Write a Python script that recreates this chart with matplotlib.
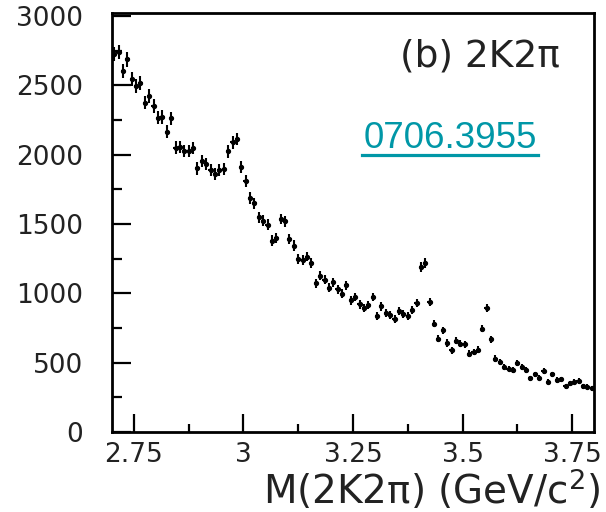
import numpy as np
import matplotlib
matplotlib.use("Agg")
import matplotlib.pyplot as plt
from matplotlib.lines import Line2D
from matplotlib.ticker import MultipleLocator

plt.rcParams['mathtext.fontset'] = 'dejavusans'

# bin edges 2.70 - 3.80 GeV, 10 MeV bins
edges_lo = 2.70
bin_w = 0.01
counts = [2727, 2740, 2604, 2688, 2544, 2496, 2520, 2376, 2424, 2352,
          2268, 2273, 2165, 2264, 2052, 2057, 2029, 2029, 2048, 1901,
          1957, 1933, 1890, 1861, 1890, 1897, 2024, 2089, 2113, 1909,
          1808, 1688, 1650, 1549, 1525, 1496, 1381, 1401, 1537, 1520,
          1393, 1345, 1250, 1242, 1266, 1218, 1074, 1129, 1098, 1041,
          1081, 1029, 998, 1057, 949, 973, 921, 897, 914, 973,
          835, 906, 858, 842, 815, 873, 849, 835, 878, 930,
          1189, 1218, 937, 782, 674, 734, 642, 590, 657, 638,
          633, 566, 578, 595, 746, 894, 669, 530, 506, 470,
          458, 446, 499, 470, 446, 386, 415, 393, 441, 362,
          415, 374, 379, 331, 350, 362, 369, 331, 326, 314]
x_ticks = [2.75, 3.0, 3.25, 3.5, 3.75]
x_tick_labels = ["2.75", "3", "3.25", "3.5", "3.75"]
y_ticks = [0, 500, 1000, 1500, 2000, 2500, 3000]

counts = np.array(counts, dtype=float)
mass = edges_lo + bin_w * (np.arange(len(counts)) + 0.5)
err = np.sqrt(counts)  # poisson errors

fig = plt.figure(figsize=(6.06, 5.12), dpi=100)
ax = fig.add_axes([112 / 606, 80 / 512, 482 / 606, 419.3 / 512])

ax.errorbar(mass, counts, xerr=bin_w / 2, yerr=err, fmt='o', ms=2.8,
            color='black', ecolor='black', elinewidth=1.5, capsize=0)

ax.set_xlim(2.70, 3.80)
ax.set_ylim(0, 3025)
ax.set_xticks(x_ticks)
ax.set_xticklabels(x_tick_labels)
ax.set_yticks(y_ticks)
ax.xaxis.set_minor_locator(MultipleLocator(0.125))
ax.yaxis.set_minor_locator(MultipleLocator(250))

ax.tick_params(which='both', direction='in', width=1.6, colors='black',
               labelcolor='#222222', top=False, right=False)
ax.tick_params(axis='x', which='major', length=13, pad=7, labelsize=19)
ax.tick_params(axis='x', which='minor', length=6)
ax.tick_params(axis='y', which='major', length=14, pad=21, labelsize=19)
ax.tick_params(axis='y', which='minor', length=7)
for s in ax.spines.values():
    s.set_linewidth(2.0)

# axis label sits right-aligned below the frame
fig.text(600 / 606, 1 - 490 / 512, "M(2K2π) (GeV/c$^2$)",
         ha='right', va='center', fontsize=28, color='#222222')

# panel label
fig.text(480 / 606, 1 - 57 / 512, "(b) 2K2π", ha='center', va='center',
         fontsize=27, color='#222222')

# arXiv link
link_col = '#0097a7'
fig.text(450 / 606, 1 - 138 / 512, "0706.3955", ha='center', va='center',
         fontsize=26.5, family='Liberation Sans', color=link_col)
fig.add_artist(Line2D([362 / 606, 538 / 606], [1 - 155 / 512, 1 - 155 / 512],
                      transform=fig.transFigure, color=link_col, lw=2.3))

fig.savefig("out.png", dpi=100)
